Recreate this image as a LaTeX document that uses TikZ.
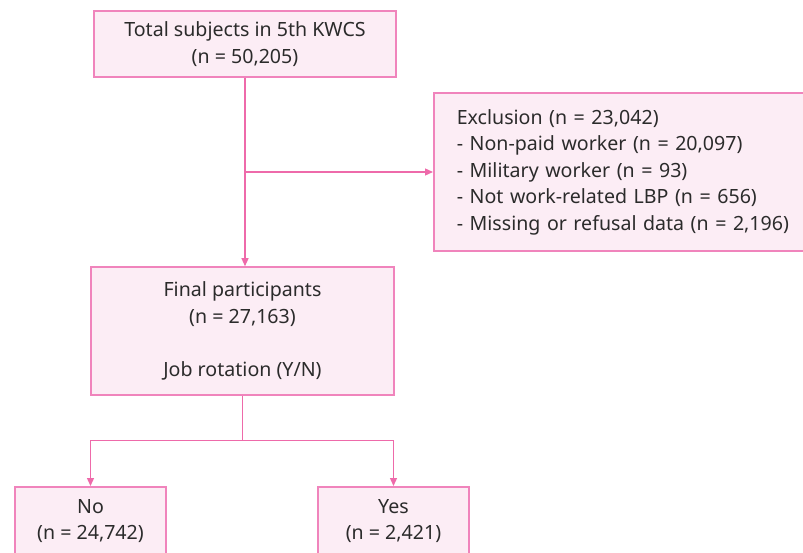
\documentclass[tikz,border=0pt]{standalone}
\usepackage{fontspec}
\setmainfont{Noto Sans}
\usetikzlibrary{arrows.meta}
\definecolor{rim}{HTML}{F084BC}
\definecolor{rose}{HTML}{EE6AAA}
\definecolor{blush}{HTML}{FCEDF5}
\definecolor{ink}{HTML}{2B2B2B}

\begin{document}
\begin{tikzpicture}[x=1pt,y=-1pt,box/.style={draw=rim,fill=blush,line width=1.6pt,text=ink,align=center,font=\fontsize{19.6}{26.5}\selectfont,inner sep=0pt},wire/.style={rose,line width=1.3pt},arr/.style={wire,-{Triangle[length=8pt,width=7pt]}}]
 \useasboundingbox (0,0) rectangle (803,553);
 \node[box,minimum width=302pt,minimum height=66pt] (total) at (245,44) {Total subjects in 5th KWCS\\(n = 50,205)};
 \node[box,anchor=west,align=left,text width=345pt,inner xsep=23pt,minimum height=158pt] (excl) at (433,172)
  {Exclusion (n = 23,042)\\- Non-paid worker (n = 20,097)\\- Military worker (n = 93)\\- Not work-related LBP (n = 656)\\- Missing or refusal data (n = 2,196)};
 \node[box,minimum width=303pt,minimum height=128pt] (final) at (242.5,331) {Final participants\\(n = 27,163)\\[26.5pt]Job rotation (Y/N)};
 \node[box,anchor=north,minimum width=151pt,minimum height=92pt] (no) at (90.5,486) {No\\(n = 24,742)\\\mbox{}};
 \node[box,anchor=north,minimum width=151pt,minimum height=92pt] (yes) at (393.5,486) {Yes\\(n = 2,421)\\\mbox{}};
 \coordinate (split) at (total.south |- excl.west);
 \draw[arr] (total.south) -- (total.south |- final.north);
 \draw[arr] (split) -- (excl.west);
 \draw[wire] (final.south) -- ++(0,45) coordinate (fork);
 \draw[arr] (fork) -| (no.north); \draw[arr] (fork) -| (yes.north);
\end{tikzpicture}
\end{document}
